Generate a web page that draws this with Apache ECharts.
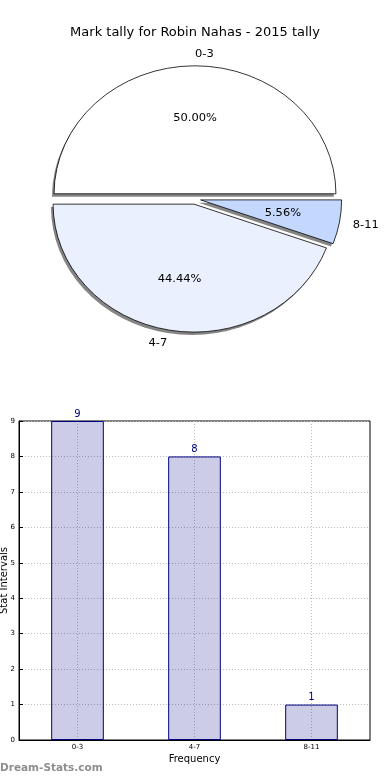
<!DOCTYPE html>
<html>
<head>
<meta charset="utf-8">
<script src="https://cdn.jsdelivr.net/npm/echarts@6/dist/echarts.min.js"></script>
<style>
html,body{margin:0;padding:0;background:#fff}
#wrap{position:relative;width:390px;height:780px}
#c{position:absolute;left:0;top:0;width:390px;height:780px}
#p{position:absolute;left:0;top:0;width:390px;height:380px;transform-origin:195px 199px;transform:scale(1.044,0.948)}
</style>
</head>
<body>
<div id="wrap"><div id="c"></div><div id="p"></div></div>
<script>
const titleText = 'Mark tally for Robin Nahas - 2015 tally';
const categories = ['0-3', '4-7', '8-11'];
const counts = [9, 8, 1];
const pieColors = ['#ffffff', '#eaf0fd', '#c4d8fe'];
const yTicks = [0, 1, 2, 3, 4, 5, 6, 7, 8, 9];
const xName = 'Frequency';
const yName = 'Stat Intervals';
const watermark = 'Dream-Stats.com';

const FONT = 'DejaVu Sans';
const R = 135;
const CX = 195, CY = 199;
const OFF = 5.5;

const chart = echarts.init(document.getElementById('c'), null, {renderer: 'canvas'});
const pie = echarts.init(document.getElementById('p'), null, {renderer: 'svg'});

const mk = (extra) => categories.map((c, i) => Object.assign({name: c, value: counts[i], selected: true}, extra ? extra(i) : {}));

const pieCommon = {
  type: 'pie', startAngle: 0, clockwise: false,
  selectedMode: 'multiple', selectedOffset: OFF,
  avoidLabelOverlap: false, emphasis: {disabled: true}
};

pie.setOption({
  animation: false,
  series: [
    Object.assign({}, pieCommon, {
      center: [CX - 2, CY + 3], radius: R, silent: true,
      data: mk(),
      itemStyle: {color: '#858585', borderWidth: 0},
      select: {itemStyle: {color: '#858585', borderWidth: 0}},
      label: {show: false}, labelLine: {show: false}
    }),
    Object.assign({}, pieCommon, {
      center: [CX, CY], radius: R,
      data: mk(i => ({itemStyle: {color: pieColors[i]}})),
      itemStyle: {borderColor: '#000', borderWidth: 0.8},
      select: {itemStyle: {borderColor: '#000', borderWidth: 0.8}, label: {fontWeight: 'normal', color: '#000'}},
      label: {show: true, position: 'outside', formatter: '{b}', distanceToLabelLine: 0,
        fontFamily: FONT, fontSize: 11, fontWeight: 'normal', color: '#000'},
      labelLine: {show: false, length: 13, length2: 0}
    }),
    Object.assign({}, pieCommon, {
      center: [CX, CY], radius: [R * 0.14, R], silent: true,
      data: mk(),
      itemStyle: {color: 'rgba(0,0,0,0)', borderWidth: 0},
      select: {itemStyle: {color: 'rgba(0,0,0,0)', borderWidth: 0}, label: {fontWeight: 'normal', color: '#000'}},
      label: {show: true, position: 'inside',
        formatter: p => p.percent.toFixed(2) + '%',
        fontFamily: FONT, fontSize: 11, fontWeight: 'normal', color: '#000'},
      labelLine: {show: false}
    })
  ]
});

chart.setOption({
  animation: false,
  title: {
    text: titleText, left: 'center', top: 21,
    textStyle: {fontFamily: FONT, fontSize: 13, fontWeight: 'normal', color: '#000'}
  },
  graphic: [{
    type: 'text', left: 0, top: 763,
    style: {text: watermark, fontFamily: FONT, fontSize: 10.5, fontWeight: 'bold', fill: '#8e8e8e'}
  }],
  grid: {left: 19, right: 20, top: 421, bottom: 40, show: true, borderColor: '#000', borderWidth: 1,
    containLabel: false, outerBoundsMode: 'none'},
  xAxis: {
    type: 'category', data: categories,
    name: xName, nameLocation: 'middle', nameGap: 14,
    nameTextStyle: {fontFamily: FONT, fontSize: 10, color: '#000'},
    axisLine: {lineStyle: {color: '#000'}},
    axisTick: {alignWithLabel: true, inside: true, length: 4, lineStyle: {color: '#000'}},
    axisLabel: {fontFamily: FONT, fontSize: 7, color: '#000', margin: 4},
    splitLine: {show: true, alignWithLabel: true, lineStyle: {color: '#bdbdbd', type: [1, 2], width: 1}}
  },
  yAxis: {
    type: 'value', min: 0, max: 9, interval: 1,
    name: yName, nameLocation: 'middle', nameGap: 10, nameMoveOverlap: false,
    nameTextStyle: {fontFamily: FONT, fontSize: 10, color: '#000'},
    axisLine: {show: true, lineStyle: {color: '#000'}},
    axisTick: {show: true, inside: true, length: 4, lineStyle: {color: '#000'}},
    axisLabel: {fontFamily: FONT, fontSize: 7, color: '#000', margin: 4,
      formatter: v => yTicks.includes(v) ? String(v) : ''},
    splitLine: {show: true, lineStyle: {color: '#bdbdbd', type: [1, 2], width: 1}}
  },
  series: [
    {
      type: 'bar', data: counts, barWidth: '45%',
      itemStyle: {color: 'rgba(0,0,128,0.2)', borderColor: '#000080', borderWidth: 1},
      label: {show: true, position: 'top', distance: 2, fontFamily: FONT, fontSize: 10, color: '#000080'},
      emphasis: {disabled: true}
    }
  ]
});
</script>
</body>
</html>
